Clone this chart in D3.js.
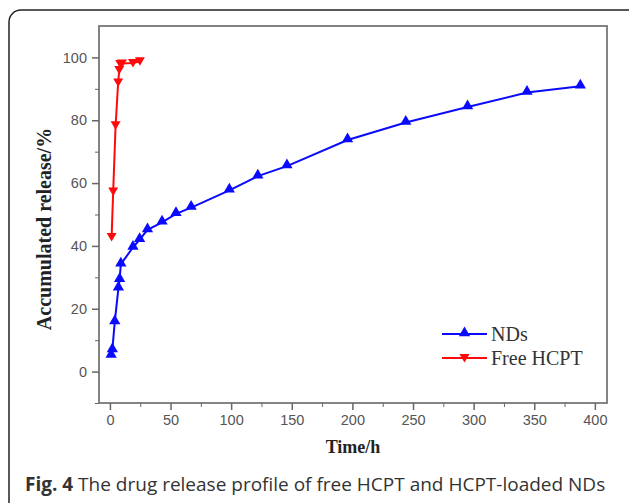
<!DOCTYPE html>
<html lang="en">
<head>
<meta charset="UTF-8">
<title>Drug release profile</title>
<script src="https://cdn.jsdelivr.net/npm/d3@7"></script>
<style>
  body { margin: 0; background: #ffffff; }
  .tick text { font-family: "Liberation Sans", Arial, sans-serif; font-size: 14.5px; fill: #555; }
  .axis path, .axis line { stroke: #666; }
</style>
</head>
<body>
<svg id="chart" width="629" height="503"></svg>
<script>

// NDs (blue, up triangles)
let ndTime  = [1, 2, 4, 7, 8, 9, 19, 24.5, 31, 43, 54.5, 67, 98.5, 122, 146, 196, 244, 295, 344, 388];
let ndValue = [5.1, 6.9, 15.8, 26.5, 29.2, 34.2, 39.5, 42, 45.1, 47.5, 50.2, 52.2, 57.7, 62.2, 65.4, 73.7, 79.3, 84.2, 88.8, 90.8];

// free HCPT (red, down triangles)
let freeTime  = [1.4, 2.7, 4.7, 6.8, 7.7, 8.5, 10, 19, 24.7];
let freeValue = [42.8, 57.3, 78.4, 92.0, 96.0, 97.9, 98.1, 98.2, 98.8];

let xTicks = [0, 50, 100, 150, 200, 250, 300, 350, 400];
let yTicks = [0, 20, 40, 60, 80, 100];
let legendNames = ['NDs', 'Free HCPT'];

let svg = d3.select('#chart');

// outer rounded panel
svg.append('rect')
  .attr('x', 9).attr('y', 10)
  .attr('width', 640).attr('height', 520)
  .attr('rx', 12)
  .style('fill', 'none')
  .style('stroke', '#222')
  .style('stroke-width', 1.5);

let plotLeft = 99, plotRight = 607, plotTop = 26, plotBottom = 403;

let x = d3.scaleLinear().domain([-9, 410]).range([plotLeft, plotRight]);
let y = d3.scaleLinear().domain([-10, 110]).range([plotBottom, plotTop]);

// plot frame
svg.append('rect')
  .attr('x', plotLeft).attr('y', plotTop)
  .attr('width', plotRight - plotLeft).attr('height', plotBottom - plotTop)
  .style('fill', 'none')
  .style('stroke', '#777')
  .style('stroke-width', 1.8);

// minor ticks
svg.append('g')
  .attr('class', 'axis')
  .attr('transform', 'translate(0,' + plotBottom + ')')
  .call(d3.axisBottom(x).tickValues(d3.range(25, 400, 50)).tickSize(4).tickFormat(''))
  .call(g => g.select('.domain').remove());

svg.append('g')
  .attr('class', 'axis')
  .attr('transform', 'translate(' + plotLeft + ',0)')
  .call(d3.axisLeft(y).tickValues([-10, 10, 30, 50, 70, 90]).tickSize(4).tickFormat(''))
  .call(g => g.select('.domain').remove());

// major ticks
svg.append('g')
  .attr('class', 'axis')
  .attr('transform', 'translate(0,' + plotBottom + ')')
  .call(d3.axisBottom(x).tickValues(xTicks).tickSize(7).tickPadding(5))
  .call(g => g.select('.domain').remove())
  .selectAll('line').style('stroke-width', 1.5);

svg.append('g')
  .attr('class', 'axis')
  .attr('transform', 'translate(' + plotLeft + ',0)')
  .call(d3.axisLeft(y).tickValues(yTicks).tickSize(7).tickPadding(5))
  .call(g => g.select('.domain').remove())
  .selectAll('line').style('stroke-width', 1.5);

let line = d3.line().x(d => x(d[0])).y(d => y(d[1]));

let ndData = ndTime.map((t, i) => [t, ndValue[i]]);
let freeData = freeTime.map((t, i) => [t, freeValue[i]]);

let triUp = d3.symbol().type(d3.symbolTriangle).size(55);
let triDown = 'M0,4.5L-5,-4L5,-4Z';

let drawSeries = function(data, colour, up) {
  svg.append('path')
    .datum(data)
    .attr('d', line)
    .style('fill', 'none')
    .style('stroke', colour)
    .style('stroke-width', 2);
  svg.selectAll(null)
    .data(data)
    .enter().append('path')
    .attr('transform', d => 'translate(' + x(d[0]) + ',' + (y(d[1]) + (up ? -1 : 0)) + ')')
    .attr('d', up ? triUp : triDown)
    .style('fill', colour);
};

drawSeries(ndData, '#0a0aff', true);
drawSeries(freeData, '#ff0a0a', false);

// legend
let legendColours = ['#0a0aff', '#ff0a0a'];
legendNames.forEach(function(name, i) {
  let ly = 334 + i * 24;
  svg.append('line')
    .attr('x1', 442).attr('x2', 487)
    .attr('y1', ly).attr('y2', ly)
    .style('stroke', legendColours[i])
    .style('stroke-width', 2);
  svg.append('path')
    .attr('transform', 'translate(464.5,' + (i === 0 ? ly - 1 : ly) + ')')
    .attr('d', i === 0 ? triUp : triDown)
    .style('fill', legendColours[i]);
  svg.append('text')
    .attr('x', 491).attr('y', ly + 7)
    .style('font-family', '"Liberation Serif", "Times New Roman", serif')
    .style('font-size', '20px')
    .style('fill', '#333')
    .text(name);
});

// axis titles
svg.append('text')
  .attr('x', (plotLeft + plotRight) / 2).attr('y', 453)
  .attr('text-anchor', 'middle')
  .style('font-family', '"Liberation Serif", "Times New Roman", serif')
  .style('font-weight', 'bold')
  .style('font-size', '18px')
  .style('fill', '#222')
  .text('Time/h');

svg.append('text')
  .attr('transform', 'translate(51,229) rotate(-90)')
  .attr('text-anchor', 'middle')
  .style('font-family', '"Liberation Serif", "Times New Roman", serif')
  .style('font-weight', 'bold')
  .style('font-size', '20px')
  .style('fill', '#222')
  .text('Accumulated release/%');

// caption
let caption = svg.append('text')
  .attr('x', 25).attr('y', 491)
  .style('font-family', '"Open Sans", sans-serif')
  .style('font-size', '19px')
  .style('fill', '#333');
caption.append('tspan').style('font-weight', 'bold').text('Fig. 4');
caption.append('tspan').text(' The drug release profile of free HCPT and HCPT-loaded NDs');

</script>
</body>
</html>
